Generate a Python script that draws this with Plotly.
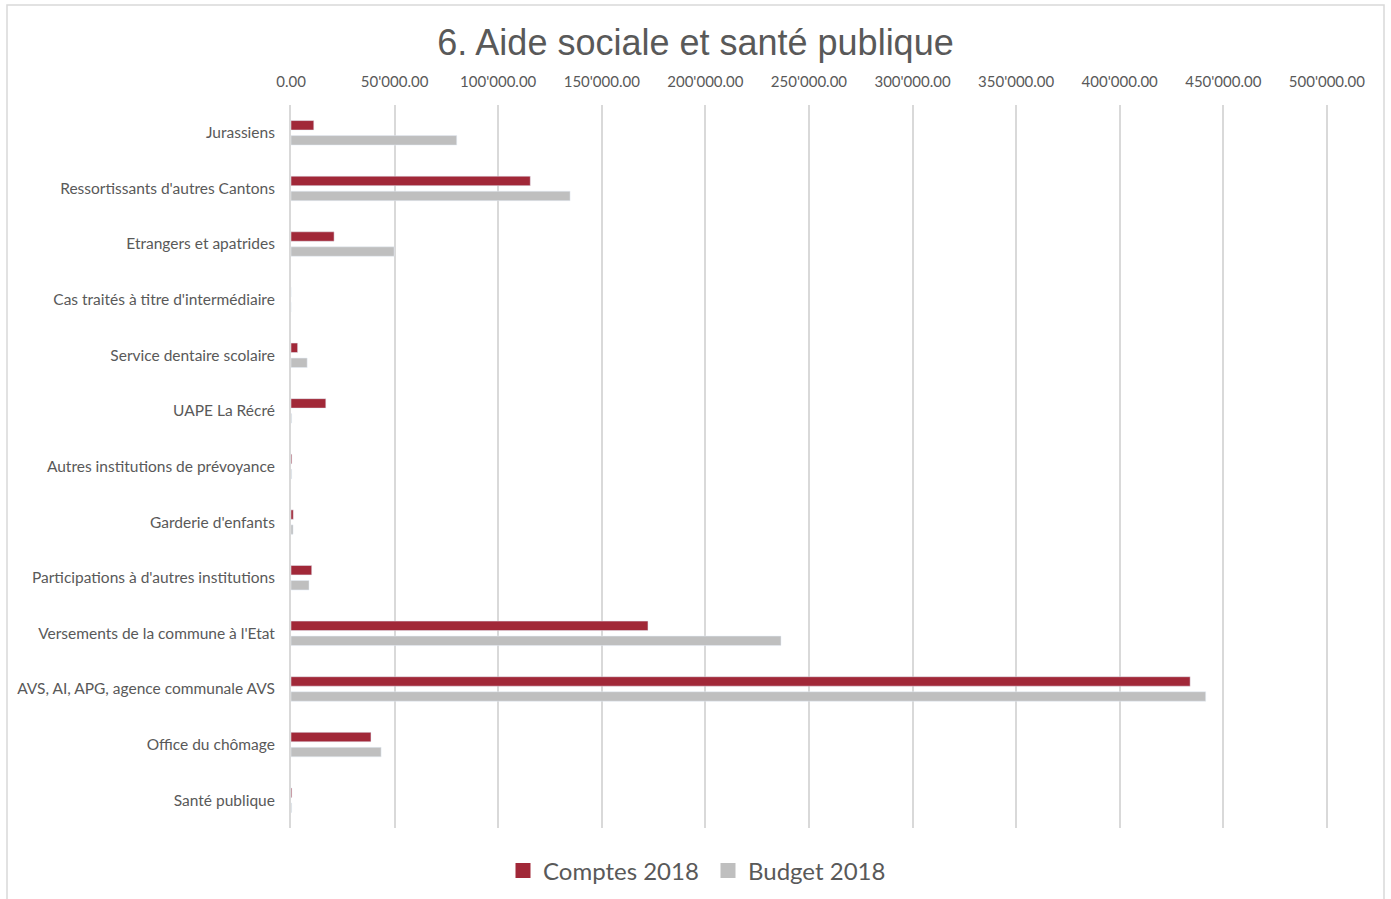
import plotly.graph_objects as go

# Catégories (de haut en bas) et montants
categories = [
    "Jurassiens",
    "Ressortissants d'autres Cantons",
    "Etrangers et apatrides",
    "Cas traités à titre d'intermédiaire",
    "Service dentaire scolaire",
    "UAPE La Récré",
    "Autres institutions de prévoyance",
    "Garderie d'enfants",
    "Participations à d'autres institutions",
    "Versements de la commune à l'Etat",
    "AVS, AI, APG, agence communale AVS",
    "Office du chômage",
    "Santé publique",
]
comptes_2018 = [11000, 115500, 20800, 0, 3200, 16800, 400, 1100, 10000, 172300, 434000, 38600, 400]
budget_2018 = [80000, 134700, 49800, 0, 7800, 300, 300, 1000, 8700, 236500, 441500, 43500, 300]
x_ticks = [0, 50000, 100000, 150000, 200000, 250000, 300000, 350000, 400000, 450000, 500000]

GREY_TXT = "#595959"
RED = "#A12838"
GREY_BAR = "#BFBFBF"
FONT = "Lato, Carlito, sans-serif"

# zone de tracé : 291 px à gauche, 500'000 tombe à x=1327 ; l'axe va un peu
# au-delà pour que plotly garde la dernière ligne de grille
X_MAX = 501500
PLOT_W = round(1036 * X_MAX / 500000)

fig = go.Figure()
fig.add_trace(go.Bar(
    y=categories, x=comptes_2018, orientation="h", name="Comptes 2018",
    marker=dict(color=RED), showlegend=False,
    hovertemplate="%{y} — Comptes : %{x:,.2f}<extra></extra>",
))
fig.add_trace(go.Bar(
    y=categories, x=budget_2018, orientation="h", name="Budget 2018",
    marker=dict(color=GREY_BAR), showlegend=False,
    hovertemplate="%{y} — Budget : %{x:,.2f}<extra></extra>",
))
# entrées de légende à carrés pleins, comme dans Excel
for name, color in [("Comptes 2018", RED), ("Budget 2018", GREY_BAR)]:
    fig.add_trace(go.Scatter(
        x=[None], y=[None], mode="markers", name=name,
        marker=dict(symbol="square", size=15, color=color),
    ))

fig.update_xaxes(
    side="top", range=[0, X_MAX], tickvals=x_ticks, tickformat=",.2f",
    showgrid=True, gridcolor="#D9D9D9", gridwidth=1.5,
    zeroline=False, showline=False, ticks="", ticklabelstandoff=14,
    tickfont=dict(family=FONT, size=15, color=GREY_TXT), automargin=False,
)
fig.update_yaxes(
    autorange="reversed", showline=True, linecolor="#D9D9D9", linewidth=2,
    showgrid=False, ticks="", ticklabelstandoff=11,
    tickfont=dict(family=FONT, size=15.5, color=GREY_TXT), automargin=False,
)

fig.update_layout(
    width=1391, height=899,
    separators=".'",
    barmode="group", bargap=0.46, bargroupgap=0.37,
    plot_bgcolor="white", paper_bgcolor="white",
    margin=dict(l=291, r=1391 - 291 - PLOT_W, t=105, b=71, autoexpand=False),
    title=dict(
        text="6. Aide sociale et santé publique", x=0.5, xanchor="center",
        y=1 - 42 / 899, yanchor="middle",
        font=dict(family="Liberation Sans, Arial, sans-serif", size=36, color=GREY_TXT),
    ),
    legend=dict(
        orientation="h", x=(708 - 291) / PLOT_W, xanchor="center",
        y=-43 / 723, yanchor="middle", entrywidth=160,
        font=dict(family=FONT, size=24, color=GREY_TXT),
        bgcolor="rgba(0,0,0,0)",
    ),
    shapes=[dict(
        type="rect", xref="paper", yref="paper",
        x0=-284 / PLOT_W, x1=1093 / PLOT_W, y0=-0.2, y1=1 + 100 / 723,
        line=dict(color="#D9D9D9", width=1.5), layer="below",
    )],
)

fig.write_html("out.html", config={"displayModeBar": False},
               post_script="document.body.style.margin='0';")
